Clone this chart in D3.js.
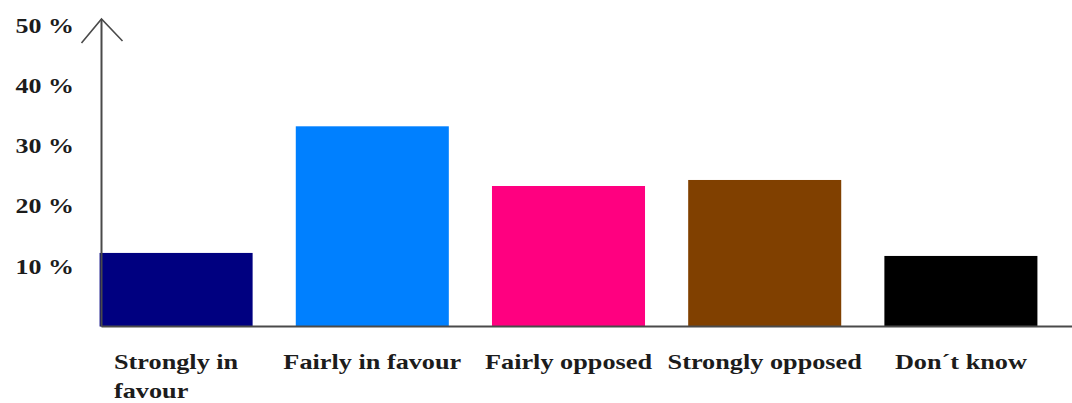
<!DOCTYPE html>
<html>
<head>
<meta charset="utf-8">
<script src="https://cdn.jsdelivr.net/npm/d3@7"></script>
<style>
  html, body { margin: 0; padding: 0; background: #fff; }
  svg { display: block; }
</style>
</head>
<body>
<svg id="chart" width="1072" height="403"></svg>
<script>
// Survey answers and their share of respondents (%)
const categories = ["Strongly in favour", "Fairly in favour", "Fairly opposed", "Strongly opposed", "Don´t know"];
const categoryLines = [["Strongly in", "favour"], ["Fairly in favour"], ["Fairly opposed"], ["Strongly opposed"], ["Don´t know"]];
const shares = [12.2, 33.2, 23.3, 24.3, 11.7];
const yTicks = [10, 20, 30, 40, 50];
const barColors = ["#000080", "#0080ff", "#ff0080", "#804000", "#000000"];

const FONT = "'Liberation Serif', 'DejaVu Serif', 'Times New Roman', serif";
const svg = d3.select("#chart");
const W = 1072;
const axisX = 101.5;
const stretch = 1.25;   // wide lettering

const x = d3.scaleBand()
  .domain(categories)
  .range([78, 1059])
  .paddingInner(0.22)
  .paddingOuter(0.11);

const y = d3.scaleLinear()
  .domain([0, 50])
  .range([326.5, 25]);

const color = d3.scaleOrdinal().domain(categories).range(barColors);

// bars
svg.append("g")
  .selectAll("rect")
  .data(categories)
  .join("rect")
  .attr("x", d => x(d))
  .attr("width", x.bandwidth())
  .attr("y", (d, i) => y(shares[i]))
  .attr("height", (d, i) => y(0) - y(shares[i]))
  .attr("fill", d => color(d));

// baseline and vertical axis with arrow head
svg.append("line")
  .attr("x1", axisX).attr("x2", W)
  .attr("y1", y(0)).attr("y2", y(0))
  .attr("stroke", "#4a4a4a").attr("stroke-width", 2);

svg.append("line")
  .attr("x1", axisX).attr("x2", axisX)
  .attr("y1", y(0)).attr("y2", y(50) - 6)
  .attr("stroke", "#4a4a4a").attr("stroke-width", 2);

const tipY = y(50) - 6;
svg.append("path")
  .attr("d", d3.line()([[axisX - 20, tipY + 24], [axisX, tipY], [axisX + 21, tipY + 22]]))
  .attr("fill", "none")
  .attr("stroke", "#4a4a4a")
  .attr("stroke-width", 1.6);

// y tick labels
const yAxis = d3.axisLeft(y)
  .tickValues(yTicks)
  .tickSize(0)
  .tickPadding(0)
  .tickFormat(d => d + " %");

const gy = svg.append("g")
  .attr("transform", "translate(74,0)")
  .call(yAxis);
gy.select(".domain").remove();
gy.attr("font-family", FONT).attr("font-size", 20).attr("font-weight", "bold");
gy.selectAll("text")
  .attr("x", 0)
  .attr("dy", "0.35em")
  .attr("transform", `scale(1.3,1)`)
  .attr("fill", "#1c1c1c");

// category labels under the bars
const labels = svg.append("g")
  .attr("font-family", FONT)
  .attr("font-size", 21)
  .attr("font-weight", "bold")
  .attr("fill", "#1c1c1c")
  .selectAll("g")
  .data(categories)
  .join("g")
  .attr("transform", d => `translate(${x(d) + x.bandwidth() / 2},369) scale(${stretch},1)`);

labels.each(function(d, i) {
  const g = d3.select(this);
  const t = g.append("text").attr("text-anchor", "start");
  categoryLines[i].forEach((line, k) => {
    t.append("tspan")
      .attr("x", 0)
      .attr("dy", k === 0 ? 0 : 29)
      .text(line);
  });
  // left-align all lines on the first line, centred under the bar
  const firstW = t.select("tspan").node().getComputedTextLength();
  t.selectAll("tspan").attr("x", -firstW / 2);
});
</script>
</body>
</html>
